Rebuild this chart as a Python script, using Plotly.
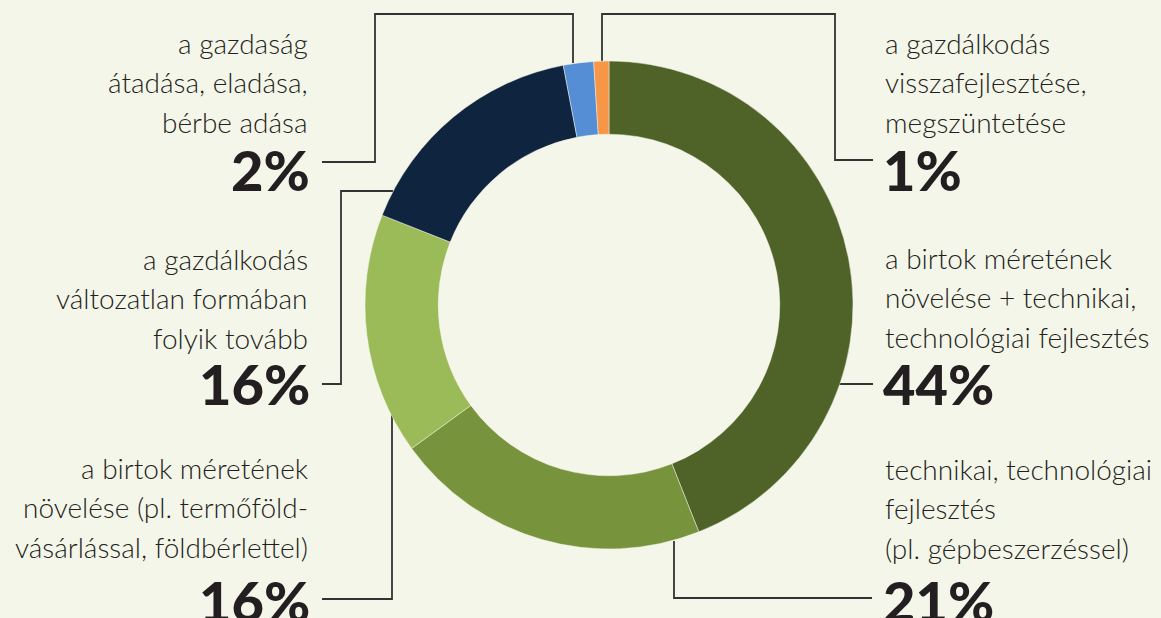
import plotly.graph_objects as go

# Survey answers (share of respondents, %), in clockwise order from 12 o'clock
categories = [
    "a birtok méretének növelése + technikai, technológiai fejlesztés",
    "technikai, technológiai fejlesztés (pl. gépbeszerzéssel)",
    "a birtok méretének növelése (pl. termőföld-vásárlással, földbérlettel)",
    "a gazdálkodás változatlan formában folyik tovább",
    "a gazdaság átadása, eladása, bérbe adása",
    "a gazdálkodás visszafejlesztése, megszüntetése",
]
values = [44, 21, 16, 16, 2, 1]
colors = ["#4f6228", "#77933c", "#9bbb59", "#0f243e", "#558ed5", "#f79646"]

# Label text, broken into display lines
label_lines = [
    ["a birtok méretének", "növelése + technikai,", "technológiai fejlesztés"],
    ["technikai, technológiai", "fejlesztés", "(pl. gépbeszerzéssel)"],
    ["a birtok méretének", "növelése (pl. termőföld-", "vásárlással, földbérlettel)"],
    ["a gazdálkodás", "változatlan formában", "folyik tovább"],
    ["a gazdaság", "átadása, eladása,", "bérbe adása"],
    ["a gazdálkodás", "visszafejlesztése,", "megszüntetése"],
]

W, H = 1161, 618
BG = "#f5f6ea"
INK = "#231f20"

def px(x):
    return x / W

def py(y):
    return 1 - y / H

fig = go.Figure()
fig.add_trace(go.Pie(
    labels=categories,
    values=values,
    sort=False,
    direction="clockwise",
    rotation=0,
    hole=0.70,
    marker=dict(colors=colors, line=dict(color="rgba(245,246,234,0.6)", width=0.8)),
    textinfo="none",
    hoverinfo="skip",
    showlegend=False,
    domain=dict(x=[px(365), px(853)], y=[py(549), py(61)]),
))

# Label block placement: (text x, anchor, line-centre y of first line, percent centre y)
blocks = [
    (883, "left", 262, 384),   # 44%
    (883, "left", 473, 600),   # 21%
    (310, "right", 472, 600),  # 16% bottom
    (310, "right", 263, 384),  # 16% middle
    (310, "right", 47, 169),   # 2%
    (883, "left", 47, 170),    # 1%
]
LINE_STEP = 39.3

annotations = []
for lines, v, (x, anchor, y0, yp) in zip(label_lines, values, blocks):
    for i, t in enumerate(lines):
        annotations.append(dict(
            x=px(x), y=py(y0 + i * LINE_STEP - 4), xref="paper", yref="paper",
            text=t, showarrow=False, xanchor=anchor, yanchor="middle",
            font=dict(family="Lato", size=28, color=INK, weight=300),
        ))
    annotations.append(dict(
        x=px(x + 2 if anchor == "right" else x - 2), y=py(yp), xref="paper", yref="paper",
        text=f"{v}%", showarrow=False, xanchor=anchor, yanchor="middle",
        font=dict(family="Lato", size=56, color=INK, weight=900),
    ))

# Leader lines from the ring to each label (pixel polylines)
leaders = [
    [(839, 384), (873, 384)],
    [(674, 541), (674, 598), (872, 598)],
    [(392, 415), (392, 599), (322, 599)],
    [(393, 191), (341, 191), (341, 384), (322, 384)],
    [(573, 63), (573, 14), (375, 14), (375, 162), (322, 162)],
    [(602, 61), (602, 14), (835, 14), (835, 160), (873, 160)],
]
shapes = []
for pts in leaders:
    path = "M " + " L ".join(f"{px(x):.5f} {py(y):.5f}" for x, y in pts)
    shapes.append(dict(type="path", xref="paper", yref="paper", path=path,
                       line=dict(color="#333333", width=1.8), layer="below"))

fig.update_layout(
    width=W, height=H,
    margin=dict(l=0, r=0, t=0, b=0),
    paper_bgcolor=BG, plot_bgcolor=BG,
    annotations=annotations,
    shapes=shapes,
)

fig.write_html("out.html")
